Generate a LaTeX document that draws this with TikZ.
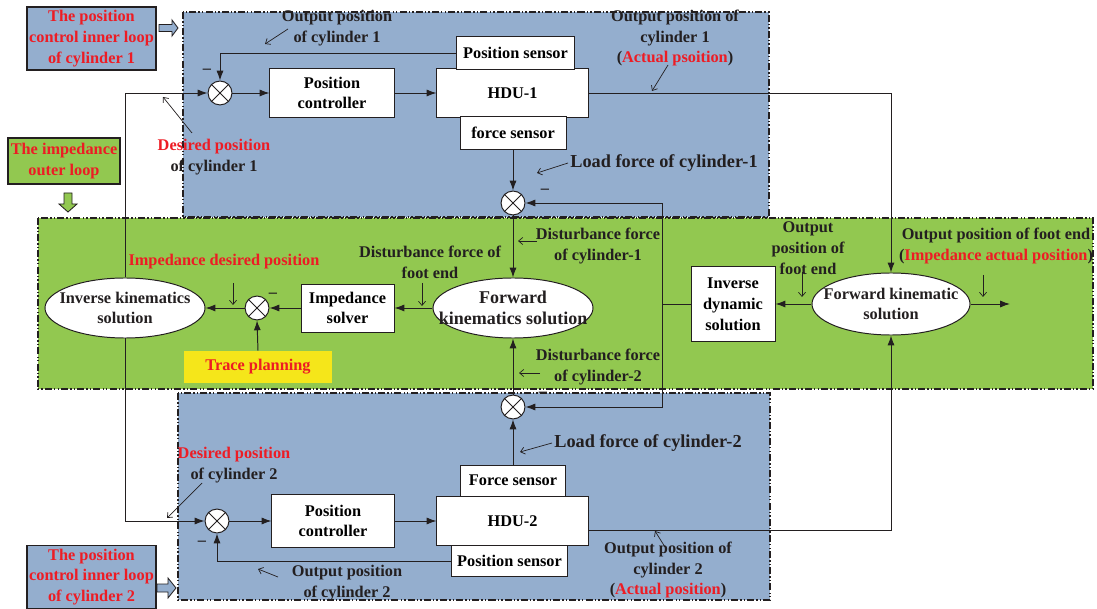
\documentclass[tikz,border=0pt]{standalone}
\usepackage{fontspec}
\setmainfont{Liberation Serif}
\usetikzlibrary{arrows.meta,shapes.geometric,calc}
\definecolor{blu}{HTML}{94AECE}
\definecolor{grn}{HTML}{92C850}
\definecolor{yel}{HTML}{F5E61A}
\definecolor{acc}{HTML}{ED1C24}
\definecolor{ink}{HTML}{231F20}
\newcommand{\bigtxt}{\fontsize{13}{15}\selectfont\bfseries}
\tikzset{
  loopbox/.style={draw=ink, line width=1.4pt, dash pattern=on 5pt off 1.5pt on 1pt off 1.5pt on 1pt off 1.5pt},
  blk/.style={draw=ink, fill=white, line width=0.7pt, align=center, inner sep=1pt},
  oval/.style={ellipse, draw=ink, fill=white, line width=0.7pt, inner sep=0pt},
  sumj/.style={circle, draw=ink, fill=white, line width=0.7pt, minimum size=17pt, inner sep=0pt},
  lbl/.style={align=center, inner sep=0pt, text=ink},
  sig/.style={line width=0.7pt, draw=ink, -{Latex[length=7pt,width=5pt]}},
  lead/.style={line width=0.5pt, draw=ink, -{Straight Barb[length=3pt,width=5pt]}},
  tag/.style={draw=ink, line width=0.8pt, align=center, text=acc, inner sep=1pt},
  hollow/.style={draw=ink, line width=0.6pt},
}

\begin{document}
\begin{tikzpicture}[x=0.025cm, y=-0.025cm, font=\fontsize{11.6}{14.8}\selectfont\bfseries]
 \useasboundingbox (0,0) rectangle (1097,609);
 \filldraw[fill=blu, loopbox] (183,12) rectangle (769,217);
 \filldraw[fill=grn, loopbox] (38,218) rectangle (1093,389);
 \filldraw[fill=blu, loopbox] (178,393) rectangle (770,600);

 \node[tag, fill=blu, minimum width=3.225cm, minimum height=1.575cm] (tag1) at (91.5,38.5) {The position\\control inner loop\\of cylinder 1};
 \node[tag, fill=grn, minimum width=2.8cm, minimum height=1.15cm] (tag2) at (64,161) {The impedance\\outer loop};
 \node[tag, fill=blu, minimum width=3.225cm, minimum height=1.575cm] (tag3) at (91.5,577) {The position\\control inner loop\\of cylinder 2};
 \filldraw[hollow, fill=blu] (159,24.5) -- (172,24.5) -- (172,20) -- (178,28) -- (172,36) -- (172,31.5) -- (159,31.5) -- cycle;
 \filldraw[hollow, fill=grn] (64,193) -- (72,193) -- (72,204) -- (77,204) -- (68,212) -- (59,204) -- (64,204) -- cycle;
 \filldraw[hollow, fill=blu] (157,584) -- (168,584) -- (168,578) -- (176,588) -- (168,598) -- (168,592) -- (157,592) -- cycle;

 % cylinder 1
 \node[sumj] (s1) at (220,93) {};
 \node[blk, minimum width=3.1cm, minimum height=1.2cm] (pc1) at (332,93) {Position\\controller};
 \node[blk, minimum width=3.775cm, minimum height=1.2cm] (hdu1) at (512.5,93) {HDU-1};
 \node[blk, minimum width=2.925cm, minimum height=0.8cm] (ps1) at (515.5,53) {Position sensor};
 \node[blk, minimum width=2.65cm, minimum height=0.8cm] (fs1) at (513,133) {force sensor};
 \node[sumj] (s2) at (513,203) {};

 % impedance loop
 \node[oval, minimum width=4cm, minimum height=1.5cm,
   label={[lbl, font=\fontsize{12.8}{15}\selectfont\bfseries]center:{Forward\\kinematics solution}}] (fks) at (513,308) {};
 \node[blk, minimum width=2.325cm, minimum height=1.2cm] (imp) at (347.5,308) {Impedance\\solver};
 \node[sumj] (s4) at (257,308) {};
 \node[oval, minimum width=4cm, minimum height=1.5cm,
   label={[lbl]center:{Inverse kinematics\\solution}}] (iks) at (125,308) {};
 \node[fill=yel, text=acc, minimum width=3.675cm, minimum height=0.8cm] (trace) at (258,367) {Trace planning};
 \node[blk, minimum width=2.1cm, minimum height=1.85cm] (ids) at (733,304) {Inverse\\dynamic\\solution};
 \node[oval, minimum width=3.95cm, minimum height=1.55cm,
   label={[lbl]center:{Forward kinematic\\solution}}] (fk2) at (891,304) {};
 \coordinate (j1) at (662,304);
 \coordinate (out) at (1010,304);

 % cylinder 2
 \node[sumj] (s3) at (513,407) {};
 \node[blk, minimum width=2.625cm, minimum height=0.775cm] (fs2) at (513,480.5) {Force sensor};
 \node[blk, minimum width=3.775cm, minimum height=1.225cm] (hdu2) at (512.5,521) {HDU-2};
 \node[blk, minimum width=2.875cm, minimum height=0.775cm] (ps2) at (509.5,561) {Position sensor};
 \node[blk, minimum width=3.05cm, minimum height=1.325cm] (pc2) at (333,521) {Position\\controller};
 \node[sumj] (s5) at (217,521) {};

 \foreach \s in {s1,s2,s3,s4,s5}
   \draw[line width=0.6pt, ink] (\s.north west) -- (\s.south east) (\s.north east) -- (\s.south west);

 \draw[sig] (ps1.west) -| (s1.north);
 \draw[sig] (s1.east) -- (pc1.west);
 \draw[sig] (pc1.east) -- (hdu1.west);
 \draw[sig] (hdu1.east) -| (fk2.north);
 \draw[sig] (fs1.south) -- (s2.north);
 \draw[sig] (s2.south) -- (fks.north);
 \draw[sig] (iks.north) |- (s1.west);
 \draw[sig] (iks.south) |- (s5.west);
 \draw[sig] (fks.west) -- (imp.east);
 \draw[sig] (imp.west) -- (s4.east);
 \draw[sig] (s4.west) -- (iks.east);
 \draw[sig] (trace.north) -- (s4.south);
 \draw[sig] (fk2.west) -- (ids.east);
 \draw[sig] (fk2.east) -- (out);
 \draw[line width=0.7pt, ink] (ids.west) -- (j1);
 \draw[sig] (j1) |- (s2.east);
 \draw[sig] (j1) |- (s3.east);
 \draw[sig] (s3.north) -- (fks.south);
 \draw[sig] (fs2.north) -- (s3.south);
 \draw[sig] (s5.east) -- (pc2.west);
 \draw[sig] (pc2.east) -- (hdu2.west);
 \draw[sig] ($(hdu2.east)+(0,9)$) -| (fk2.south);
 \draw[sig] (ps2.west) -| (s5.south);

 \foreach \xy [count=\k] in {(207,71),(545,191),(273,295),(543,394),(202,543)}
   \node[lbl] (m\k) at \xy {--};

 \node[lbl] (t1) at (337,28) {Output position\\of cylinder 1};
 \node[lbl] (t2) at (675,38) {Output position of\\cylinder 1\\(\textcolor{acc}{Actual psoition})};
 \node[lbl] (t3) at (214,157) {\textcolor{acc}{Desired position}\\of cylinder 1};
 \node[lbl, font=\bigtxt] (t4) at (664,163) {Load force of cylinder-1};
 \node[lbl] (t5) at (598,246) {Disturbance force\\of cylinder-1};
 \node[lbl] (t6) at (430,262) {Disturbance force of\\foot end};
 \node[lbl, text=acc] (t7) at (224,262) {Impedance desired position};
 \node[lbl] (t8) at (598,367) {Disturbance force\\of cylinder-2};
 \node[lbl] (t9) at (808,248) {Output\\position of\\foot end};
 \node[lbl] (t10) at (996,246) {Output position of foot end\\(\textcolor{acc}{Impedance actual position})};
 \node[lbl, font=\bigtxt] (t11) at (648,443) {Load force of cylinder-2};
 \node[lbl] (t12) at (234,465) {\textcolor{acc}{Desired position}\\of cylinder 2};
 \node[lbl] (t13) at (347,583) {Output position\\of cylinder 2};
 \node[lbl] (t14) at (668,570) {Output position of\\cylinder 2\\(\textcolor{acc}{Actual position})};

 \coordinate (p1) at (288,29);  \coordinate (q1) at (265,44);
 \coordinate (p2) at (668,65);  \coordinate (q2) at (652,91);
 \coordinate (p3) at (192,133); \coordinate (q3) at (163,97);
 \coordinate (p4) at (568,163); \coordinate (q4) at (537,173);
 \coordinate (p5) at (537,241); \coordinate (q5) at (518,241);
 \coordinate (p6) at (540,373); \coordinate (q6) at (519,373);
 \coordinate (p7) at (422,283); \coordinate (q7) at (422,306);
 \coordinate (p8) at (233,283); \coordinate (q8) at (233,305);
 \coordinate (p9) at (802,272); \coordinate (q9) at (802,297);
 \coordinate (p10) at (983,275); \coordinate (q10) at (983,297);
 \coordinate (p11) at (552,443); \coordinate (q11) at (520,452);
 \coordinate (p12) at (202,483); \coordinate (q12) at (167,518);
 \coordinate (p13) at (278,577); \coordinate (q13) at (258,569);
 \coordinate (p14) at (665,547); \coordinate (q14) at (655,531);
 \foreach \i in {1,...,14}
   \draw[lead] (p\i) -- (q\i);
\end{tikzpicture}
\end{document}
